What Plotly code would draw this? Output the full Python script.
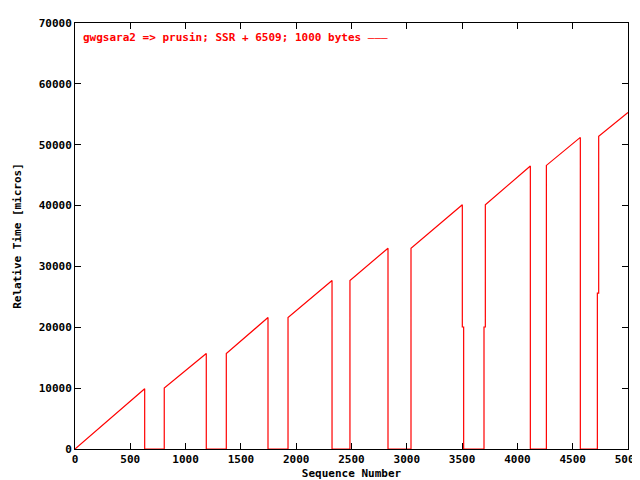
import plotly.graph_objects as go

seq = [0, 630, 630, 807, 807, 1187, 1187, 1368, 1368, 1745, 1745, 1926, 1926,
       2324, 2324, 2486, 2486, 2830, 2830, 3038, 3038, 3502, 3502, 3514, 3514,
       3698, 3698, 3710, 3710, 4117, 4117, 4262, 4262, 4569, 4569, 4723, 4723,
       4735, 4735, 5000]
rel_time = [0, 9900, 0, 0, 10000, 15700, 0, 0, 15700, 21600, 0, 0, 21600,
            27700, 0, 0, 27700, 33000, 0, 0, 33000, 40140, 20050, 20050, 0,
            0, 20050, 20050, 40140, 46500, 0, 0, 46600, 51200, 0, 0, 25600,
            25600, 51400, 55300]

label = "gwgsara2 => prusin; SSR + 6509; 1000 bytes"
font = dict(family="DejaVu Sans Mono", size=11, color="black")

fig = go.Figure(go.Scatter(x=seq, y=rel_time, mode="lines", name=label,
                           line=dict(color="red", width=1.2)))
axis = dict(showline=True, linecolor="black", linewidth=1, mirror="ticks",
            ticks="inside", ticklen=6, tickcolor="black", showgrid=False,
            zeroline=False, tickfont=font, automargin=False)
fig.update_xaxes(range=[0, 5000], dtick=500, title=dict(text="<b>Sequence Number</b>", font=font, standoff=4), **axis)
fig.update_yaxes(range=[0, 70000], dtick=10000, tickformat="d",
                 title=dict(text="<b>Relative Time [micros]</b>", font=font, standoff=14), **axis)
fig.update_layout(
    width=640, height=480, plot_bgcolor="white", paper_bgcolor="white",
    margin=dict(l=67, r=20, t=15, b=39),
    font=dict(family="DejaVu Sans Mono", size=11, color="black"),
    showlegend=False,
    annotations=[dict(x=0.01, y=0.985, xref="paper", yref="paper", xanchor="left", yanchor="top",
                      showarrow=False, text="<b>" + label + "</b> ———",
                      font=dict(family="DejaVu Sans Mono", size=11, color="red"))],
)
fig.update_xaxes(tickprefix="<b>", ticksuffix="</b>")
fig.update_yaxes(tickprefix="<b>", ticksuffix="</b>")
fig.write_html("out.html")
